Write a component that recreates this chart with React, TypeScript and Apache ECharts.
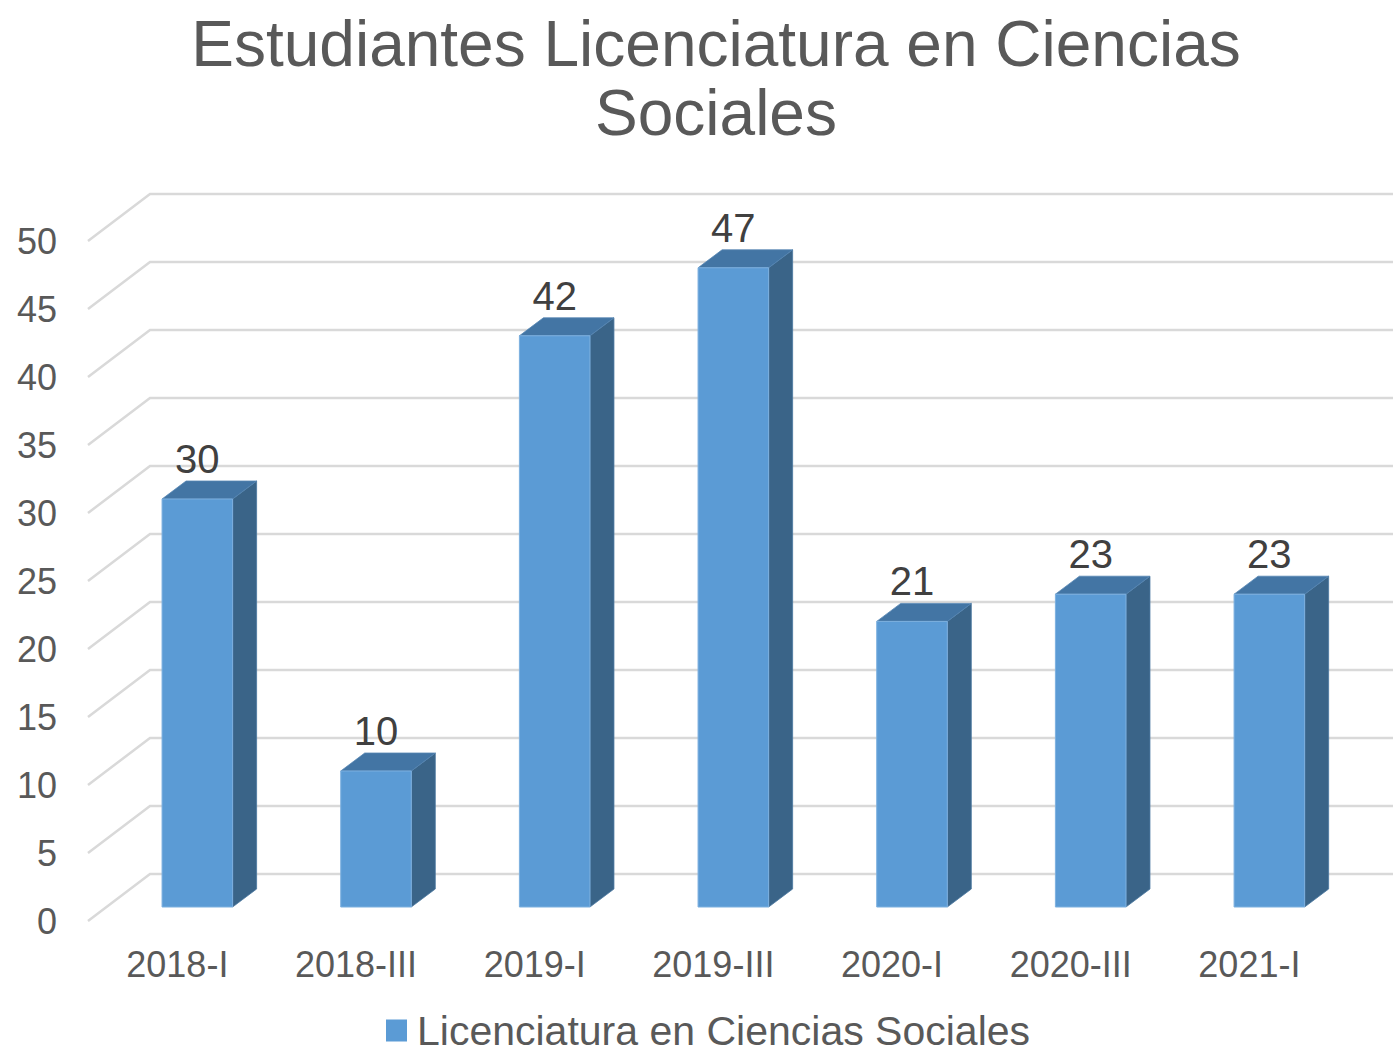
import React, { useEffect, useRef } from "react";
import * as echarts from "echarts";

const categories = ["2018-I", "2018-III", "2019-I", "2019-III", "2020-I", "2020-III", "2021-I"];
const values = [30, 10, 42, 47, 21, 23, 23];
const yTicks = [0, 5, 10, 15, 20, 25, 30, 35, 40, 45, 50];
const seriesName = "Licenciatura en Ciencias Sociales";
const titleText = "Estudiantes Licenciatura en Ciencias\nSociales";

const FONT = "'Liberation Sans', Arial, sans-serif";
// 3D depth offsets (px)
const DEPTH_X = 24;
const DEPTH_Y = 18;
const FRONT_DX = -20;
const FRONT_DY = 14;
const BACK_DX = 42;
const BACK_DY = 33;

export default function App() {
  const ref = useRef<HTMLDivElement>(null);
  useEffect(() => {
    if (!ref.current) return;
    const chart = echarts.init(ref.current, null, { renderer: "svg" });
    const option: any = {
      animation: false,
      backgroundColor: "#ffffff",
      title: {
        text: titleText,
        left: 711,
        top: 4,
        textAlign: "center",
        textStyle: {
          fontFamily: FONT,
          fontSize: 64,
          lineHeight: 69,
          fontWeight: "normal",
          color: "#595959",
        },
      },
      legend: {
        left: 386,
        top: 1010,
        padding: 0,
        itemWidth: 21,
        itemHeight: 22,
        icon: "rect",
        data: [{ name: seriesName, itemStyle: { color: "#5B9BD5" } }],
        textStyle: {
          fontFamily: FONT,
          fontSize: 41,
          lineHeight: 41,
          color: "#595959",
          padding: [0, 0, 0, 5],
        },
      },
      grid: [
        { left: 108, right: 34.3, top: 227, bottom: 149 },
        { left: 88, right: 54.3, top: 241, bottom: 135 },
      ],
      xAxis: [
        { type: "category", data: categories, gridIndex: 0, show: false },
        {
          type: "category",
          data: categories,
          gridIndex: 1,
          axisLine: { show: false },
          axisTick: { show: false },
          axisLabel: { fontFamily: FONT, fontSize: 36, color: "#595959", margin: 25 },
        },
      ],
      yAxis: [
        { type: "value", min: 0, max: 50, interval: 5, gridIndex: 0, show: false },
        {
          type: "value",
          min: 0,
          max: 50,
          interval: 5,
          gridIndex: 1,
          axisLine: { show: false },
          axisTick: { show: false },
          splitLine: { show: false },
          axisLabel: { fontFamily: FONT, fontSize: 36, color: "#595959", margin: 31 },
        },
      ],
      series: [
        {
          type: "custom",
          name: "grid",
          xAxisIndex: 0,
          yAxisIndex: 0,
          silent: true,
          clip: false,
          z: 1,
          data: yTicks.map((v) => [0, v]),
          encode: { x: 0, y: 1 },
          renderItem: (params: any, api: any) => {
            const y = api.coord([0, api.value(1)])[1];
            const cs = params.coordSys;
            const left = cs.x;
            const right = cs.x + cs.width + BACK_DX + 20;
            return {
              type: "polyline",
              shape: {
                points: [
                  [left + FRONT_DX, y + FRONT_DY],
                  [left + BACK_DX, y - BACK_DY],
                  [right, y - BACK_DY],
                ],
              },
              style: { stroke: "#D9D9D9", lineWidth: 2.5, fill: "none" },
            };
          },
        },
        {
          type: "custom",
          name: seriesName,
          xAxisIndex: 0,
          yAxisIndex: 0,
          clip: false,
          z: 5,
          itemStyle: { color: "#5B9BD5" },
          data: values.map((v, i) => [i, v]),
          encode: { x: 0, y: 1 },
          renderItem: (params: any, api: any) => {
            const i = api.value(0);
            const v = api.value(1);
            const base = api.coord([i, 0]);
            const top = api.coord([i, v]);
            const bw = api.size([1, 0])[0] * 0.395;
            const x1 = base[0] - bw / 2;
            const x2 = base[0] + bw / 2;
            const yb = base[1];
            const yt = top[1];
            return {
              type: "group",
              children: [
                {
                  type: "polygon",
                  shape: {
                    points: [
                      [x2, yt],
                      [x2 + DEPTH_X, yt - DEPTH_Y],
                      [x2 + DEPTH_X, yb - DEPTH_Y],
                      [x2, yb],
                    ],
                  },
                  style: { fill: "#3A6488", stroke: "#4A77A0", lineWidth: 0.8 },
                },
                {
                  type: "polygon",
                  shape: {
                    points: [
                      [x1, yt],
                      [x1 + DEPTH_X, yt - DEPTH_Y],
                      [x2 + DEPTH_X, yt - DEPTH_Y],
                      [x2, yt],
                    ],
                  },
                  style: { fill: "#4375A4", stroke: "#5585B2", lineWidth: 0.8 },
                },
                {
                  type: "rect",
                  shape: { x: x1, y: yt, width: bw, height: yb - yt },
                  style: { fill: "#5B9BD5", stroke: "#7DB0DF", lineWidth: 1 },
                },
                {
                  type: "text",
                  x: base[0],
                  y: yt - DEPTH_Y - 2,
                  style: {
                    text: String(v),
                    fontFamily: FONT,
                    fontSize: 40,
                    fill: "#404040",
                    align: "center",
                    verticalAlign: "bottom",
                  },
                },
              ],
            };
          },
        },
      ],
    };
    chart.setOption(option);
    return () => chart.dispose();
  }, []);
  return (
    <div
      ref={ref}
      style={{ position: "fixed", left: 0, top: 0, width: 1393, height: 1056 }}
    />
  );
}
